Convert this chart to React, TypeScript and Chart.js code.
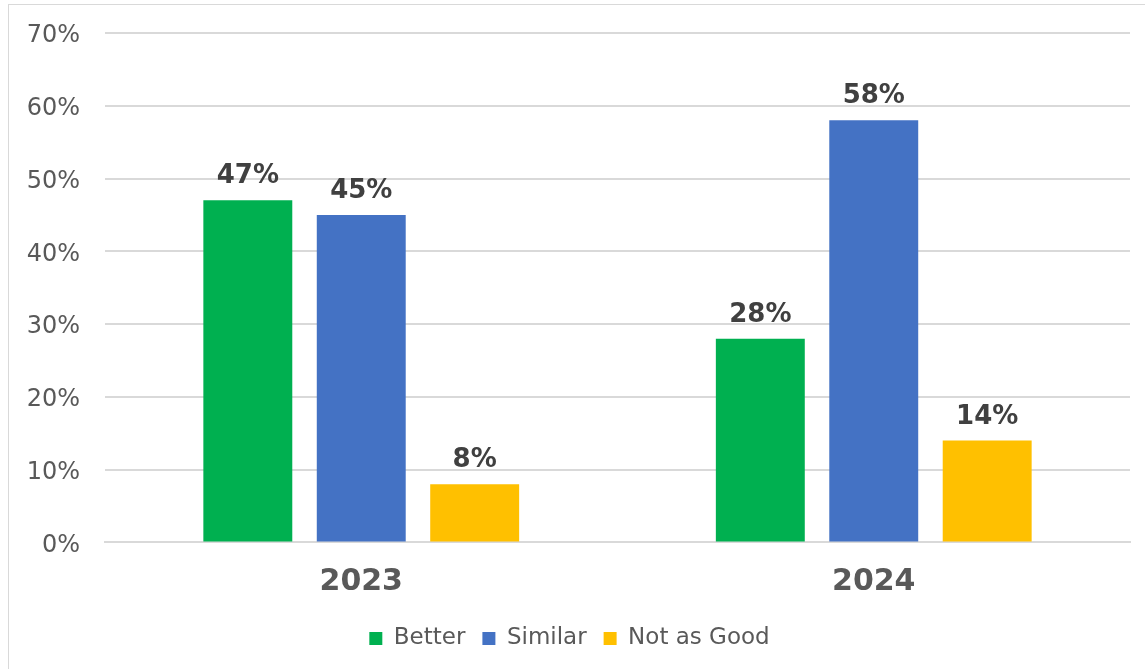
import React, { useEffect, useRef } from "react";
import { Chart, registerables } from "chart.js";

Chart.register(...registerables);

const categories = ["2023", "2024"];
const better = [47, 28];
const similar = [45, 58];
const notAsGood = [8, 14];
const seriesNames = ["Better", "Similar", "Not as Good"];
const yTicks = [0, 10, 20, 30, 40, 50, 60, 70];

const FONT = "'DejaVu Sans', Verdana, sans-serif";

const dataLabels = {
  id: "dataLabels",
  afterDatasetsDraw(chart: any) {
    const ctx = chart.ctx;
    ctx.save();
    ctx.font = `bold 26px ${FONT}`;
    ctx.fillStyle = "#404040";
    ctx.textAlign = "center";
    ctx.textBaseline = "alphabetic";
    chart.data.datasets.forEach((ds: any, i: number) => {
      const meta = chart.getDatasetMeta(i);
      meta.data.forEach((bar: any, j: number) => {
        ctx.fillText(ds.data[j] + "%", bar.x, bar.y - 17);
      });
    });
    ctx.restore();
  },
};

export default function App() {
  const ref = useRef<HTMLCanvasElement>(null);
  useEffect(() => {
    const chart = new Chart(ref.current!, {
      type: "bar",
      data: {
        labels: categories,
        datasets: [
          { label: seriesNames[0], data: better, backgroundColor: "#00b050" },
          { label: seriesNames[1], data: similar, backgroundColor: "#4472c4" },
          { label: seriesNames[2], data: notAsGood, backgroundColor: "#ffc000" },
        ],
      },
      options: {
        animation: false,
        responsive: false,
        devicePixelRatio: 1,
        layout: { padding: { top: 28, right: 15, bottom: 9, left: 0 } },
        datasets: { bar: { categoryPercentage: 0.664, barPercentage: 0.784 } },
        scales: {
          x: {
            grid: { display: false, drawTicks: false },
            border: { display: true, color: "#d9d9d9", width: 2 },
            ticks: {
              padding: 22,
              color: "#595959",
              font: { family: FONT, size: 30, weight: "bold" },
            },
            afterFit(scale: any) {
              scale.height = 67.6;
              scale.paddingLeft = 0;
              scale.paddingRight = 0;
            },
          },
          y: {
            min: 0,
            max: 70,
            afterBuildTicks(scale: any) {
              scale.ticks = yTicks.map((v) => ({ value: v }));
            },
            grid: { color: "#d9d9d9", lineWidth: 2, drawTicks: false },
            border: { display: false },
            ticks: {
              padding: 25,
              labelOffset: 3,
              color: "#595959",
              font: { family: FONT, size: 24 },
              callback: (v: any) => v + "%",
            },
            afterFit(scale: any) {
              scale.width = 96;
              scale.paddingTop = 0;
              scale.paddingBottom = 0;
            },
          },
        },
        plugins: {
          legend: {
            position: "bottom",
            labels: {
              boxWidth: 13,
              boxHeight: 13,
              padding: 17,
              color: "#595959",
              font: { family: FONT, size: 23 },
            },
          },
          tooltip: { enabled: false },
        },
      },
      plugins: [dataLabels],
    } as any);
    return () => chart.destroy();
  }, []);
  return (
    <div style={{ position: "fixed", inset: 0, overflow: "hidden", background: "#fff" }}>
      <div
        style={{
          position: "absolute",
          left: 8,
          top: 4,
          width: 1137,
          height: 665,
          borderTop: "1px solid #d9d9d9",
          borderLeft: "1px solid #d9d9d9",
        }}
      >
        <canvas ref={ref} width={1136} height={664} style={{ display: "block" }} />
      </div>
    </div>
  );
}
